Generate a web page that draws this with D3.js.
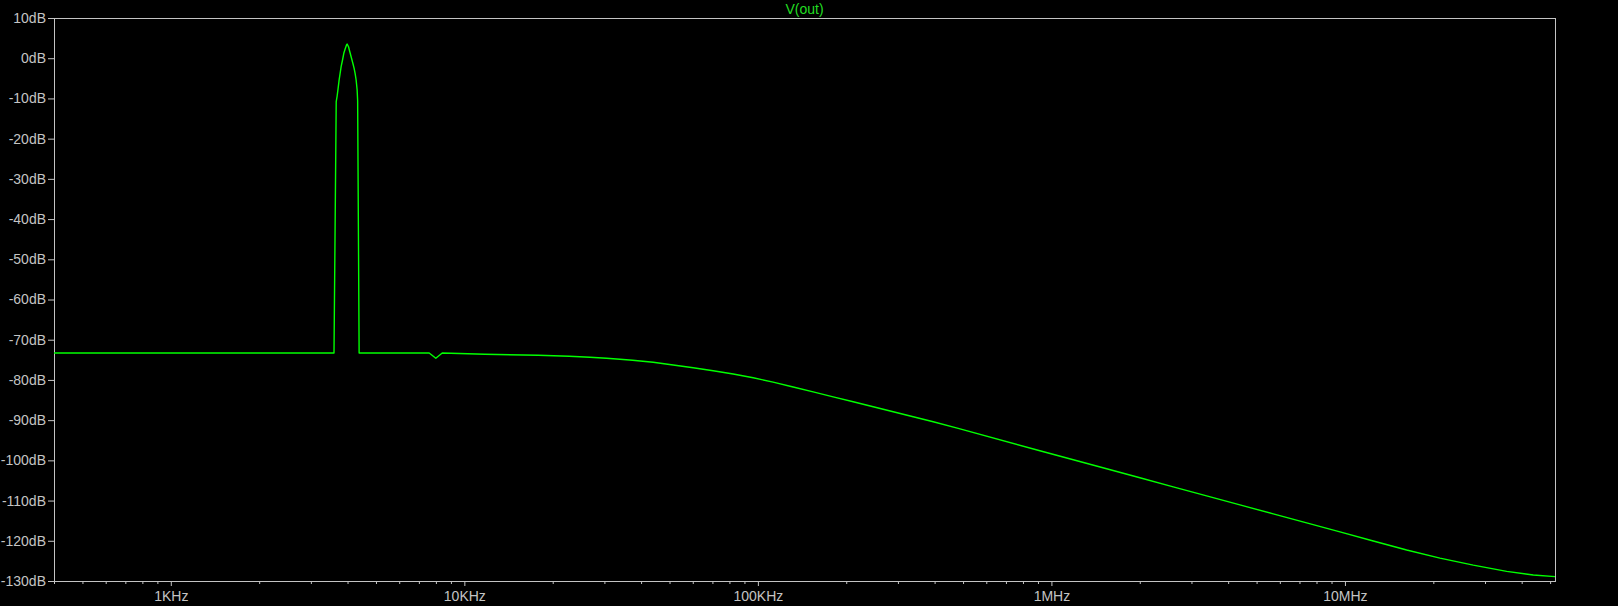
<!DOCTYPE html>
<html>
<head>
<meta charset="utf-8">
<script src="https://cdn.jsdelivr.net/npm/d3@7"></script>
<style>
  html, body { margin: 0; padding: 0; background: #000; }
  svg { display: block; }
  text { font-family: "Liberation Sans", Arial, sans-serif; }
</style>
</head>
<body>
<script>
// ---- data ----
const seriesName = "V(out)";
const freqHz = [
  400, 3597, 3660, 3687, 3715, 3745, 3774, 3804, 3846, 3885, 3925, 3968, 3987,
  4031, 4072, 4127, 4170, 4212, 4245, 4279, 4313, 4330, 4381,
  7589, 7995, 8405,
  11740, 17840, 22760, 26770, 30510, 33870, 37430, 43990, 51450, 60200, 70410,
  82380, 96380, 112700, 131900, 154300, 180500, 211200, 247100, 289100, 338100,
  395700, 481400, 913500, 1187000, 1542000, 2002000, 2600000, 3379000, 4387000,
  5698000, 7405000, 9616000, 12490000, 16230000, 21070000, 27360000, 35560000,
  43810000, 51950000
];
const gainDb = [
  -73.3, -73.3, -10.8, -9.4, -7.5, -5.4, -3.75, -2.1, -0.44, 1.22, 2.29, 3.29, 3.53,
  2.86, 1.62, -0.02, -1.26, -2.51, -3.75, -5.42, -7.9, -10.6, -73.3,
  -73.3, -74.6, -73.3,
  -73.63, -73.88, -74.13, -74.37, -74.62, -74.87, -75.12, -75.62, -76.29, -76.96, -77.71,
  -78.53, -79.45, -80.55, -81.75, -82.98, -84.2, -85.43, -86.66, -87.91, -89.15,
  -90.4, -92.05, -97.6, -99.85, -102.09, -104.33, -106.58, -108.83, -111.07,
  -113.31, -115.56, -117.8, -120.05, -122.3, -124.3, -126.05, -127.6,
  -128.5, -128.9
];
const xDomain = [400, 5.195e7];
const yDomain = [-130, 10];
const xMajorTicks = [1e3, 1e4, 1e5, 1e6, 1e7];
const xMajorLabels = ["1KHz", "10KHz", "100KHz", "1MHz", "10MHz"];
const yTicks = [10, 0, -10, -20, -30, -40, -50, -60, -70, -80, -90, -100, -110, -120, -130];
const yTickLabels = yTicks.map(v => v + "dB");

// ---- layout ----
const W = 1618, H = 606;
const L = 54, R = 1555, T = 18, B = 581;
const axisColor = "#c4c4c4";
const traceColor = "#00ff00";

const svg = d3.select("body").append("svg").attr("width", W).attr("height", H)
  .style("background", "#000");

const x = d3.scaleLog().domain(xDomain).range([L, R]);
const y = d3.scaleLinear().domain(yDomain).range([B, T]);

// frame
svg.append("rect")
  .attr("x", L + 0.5).attr("y", T + 0.5)
  .attr("width", R - L).attr("height", B - T)
  .attr("fill", "none").attr("stroke", axisColor).attr("stroke-width", 1);

// minor x ticks
const minor = x.ticks().filter(v => !xMajorTicks.some(m => Math.abs(m - v) / m < 1e-9));
const gMinor = svg.append("g").attr("transform", `translate(0,${B})`)
  .call(d3.axisBottom(x).tickValues(minor).tickSize(3).tickFormat(""));
// major x ticks
const gMajor = svg.append("g").attr("transform", `translate(0,${B})`)
  .call(d3.axisBottom(x).tickValues(xMajorTicks).tickSize(5).tickPadding(5)
    .tickFormat((d, i) => xMajorLabels[i]));
// y axis
const gY = svg.append("g").attr("transform", `translate(${L},0)`)
  .call(d3.axisLeft(y).tickValues(yTicks).tickSize(6).tickPadding(2)
    .tickFormat((d, i) => yTickLabels[i]));

[gMinor, gMajor, gY].forEach(g => {
  g.select(".domain").remove();
  g.selectAll("line").attr("stroke", axisColor);
  g.selectAll("text").attr("fill", axisColor)
    .style("font-family", '"Liberation Sans", Arial, sans-serif')
    .style("font-size", "14px");
});

// title
svg.append("text")
  .attr("x", (L + R) / 2).attr("y", 13.5)
  .attr("text-anchor", "middle")
  .attr("fill", "#22dd22")
  .style("font-size", "14px")
  .text(seriesName);

// trace
const pts = freqHz.map((f, i) => [f, gainDb[i]]);
const line = d3.line().x(d => x(d[0])).y(d => y(d[1]));
svg.append("path")
  .datum(pts)
  .attr("d", line)
  .attr("fill", "none")
  .attr("stroke", traceColor)
  .attr("stroke-width", 1.4)
  .attr("stroke-linejoin", "round");
</script>
</body>
</html>
